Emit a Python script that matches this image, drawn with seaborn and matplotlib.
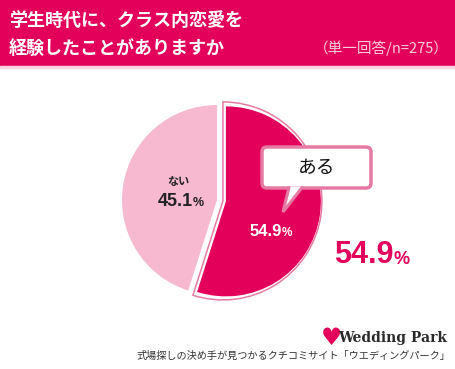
import numpy as np
import matplotlib
matplotlib.use("Agg")
import matplotlib.pyplot as plt
from matplotlib.patches import Rectangle, FancyBboxPatch, Polygon
import seaborn as sns

# data
labels = ["ある", "ない"]
values = [54.9, 45.1]
title_lines = ["学生時代に、クラス内恋愛を", "経験したことがありますか"]
note = "（単一回答/n=275）"
footer = "式場探しの決め手が見つかるクチコミサイト「ウエディングパーク」"

RED = "#e2005a"
PINK = "#f6b9d0"
EDGE = "#e77aa3"

sns.set_theme(style="white")
plt.rcParams['font.family'] = ['Noto Sans CJK JP', 'DejaVu Sans']

W, H = 455, 369
fig = plt.figure(figsize=(W / 100, H / 100), dpi=100)
ax = fig.add_axes([0, 0, 1, 1])

def Y(y):
    return H - y

# header band
ax.add_patch(Rectangle((0, Y(66)), W, 66, color=RED, zorder=1))
ax.add_patch(Rectangle((0, Y(68)), W, 2, color="#f7d3df", zorder=1))
ax.text(9, Y(20), title_lines[0], color="white", fontsize=13, fontweight="bold",
        va="center", ha="left")
ax.text(9, Y(48), title_lines[1], color="white", fontsize=13, fontweight="bold",
        va="center", ha="left")
ax.text(449, Y(48), note, color="#f7cfdc", fontsize=10.5, va="center", ha="right")

# pie
cx, cy, r = 217, Y(200), 95
wedges, _ = ax.pie(values, startangle=90, counterclock=False, colors=[RED, PINK],
                   center=(cx, cy), radius=r, explode=[9, 0],
                   wedgeprops=dict(linewidth=0))
outline, _ = ax.pie(values, startangle=90, counterclock=False, colors=["none", "none"],
                    center=(cx, cy), radius=r + 4, explode=[6, 0],
                    wedgeprops=dict(fill=False, edgecolor=EDGE, linewidth=1.1))
outline[1].set_visible(False)

# slice labels
num = dict(family=['Liberation Sans'], fontweight="bold")
ax.text(178, Y(181), labels[1], fontsize=8, fontweight="bold", color="#222222",
        ha="center", va="center")
ax.text(193, Y(201), f"{values[1]}", fontsize=13, color="#222222", ha="right", va="center", **num)
ax.text(193, Y(203), "%", fontsize=9, color="#222222", ha="left", va="center", **num)
ax.text(282, Y(232), f"{values[0]}", fontsize=12, color="white", ha="right", va="center", **num)
ax.text(282, Y(233), "%", fontsize=8.5, color="white", ha="left", va="center", **num)

# big value
ax.text(394, Y(255), f"{values[0]}", fontsize=22, color=RED, ha="right", va="center", **num)
ax.text(394, Y(259), "%", fontsize=13, color=RED, ha="left", va="center", **num)

# callout
ax.add_patch(FancyBboxPatch((262, Y(188)), 109, 41, boxstyle="round,pad=0,rounding_size=5",
                            fc="white", ec=EDGE, lw=2.5, zorder=5))
ax.add_patch(Polygon([(289, Y(186.5)), (283, Y(212)), (302, Y(186.5))], closed=True,
                     fc="white", ec="none", zorder=6))
ax.plot([289, 283, 302], [Y(187.5), Y(212), Y(187.5)], color=EDGE, lw=2.2, zorder=6,
        solid_joinstyle="miter")
ax.text(317, Y(167), labels[0], fontsize=13.5, color="#111111", ha="center", va="center", zorder=7)

# logo + footer
ax.text(331, Y(338), "\u2665", family=['DejaVu Sans'], fontsize=17, color=RED,
        ha="center", va="center")
ax.text(447, Y(338), "Wedding Park", family=['DejaVu Serif'], fontweight="bold",
        fontsize=10, color="#2a2a2a", ha="right", va="center")
ax.text(450, Y(356), footer, fontsize=7.3, color="#333333", ha="right", va="center")

ax.set_xlim(0, W)
ax.set_ylim(0, H)
ax.set_aspect("auto")
ax.axis("off")

fig.savefig("out.png", dpi=100)
